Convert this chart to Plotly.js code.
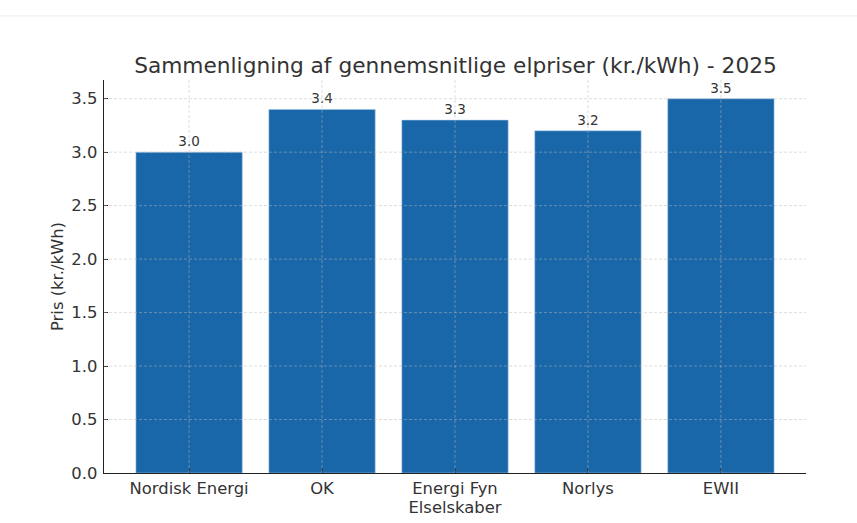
<!DOCTYPE html>
<html>
<head>
<meta charset="utf-8">
<script src="https://cdn.plot.ly/plotly-3.0.1.min.js"></script>
<style>
  html, body { margin: 0; padding: 0; background: #fff; }
  #chart { width: 857px; height: 523px; }
</style>
</head>
<body>
<div id="chart"></div>
<script>
// Data
var companies = ["Nordisk Energi", "OK", "Energi Fyn", "Norlys", "EWII"];
var prices = [3.0, 3.4, 3.3, 3.2, 3.5];
var yTicks = [0.0, 0.5, 1.0, 1.5, 2.0, 2.5, 3.0, 3.5];

var textColor = "#333333";
var gridColor = "rgba(185,185,185,0.6)";

var trace = {
    type: "bar",
    x: companies,
    y: prices,
    width: 0.8,
    marker: {color: "#1967a9", line: {color: "rgba(170,200,230,0.7)", width: 0.8}},
    text: prices.map(function(v) { return v.toFixed(1); }),
    textposition: "outside",
    textfont: {family: "DejaVu Sans", size: 13.5, color: textColor},
    cliponaxis: false,
    hoverinfo: "skip"
};

// grid lines drawn on top of the bars, as in the reference
var shapes = [];
yTicks.slice(1).forEach(function(t) {
    shapes.push({type: "line", xref: "paper", yref: "y", x0: 0, x1: 1, y0: t, y1: t,
                 layer: "above", line: {color: gridColor, width: 0.8, dash: "3px,2px"}});
});
companies.forEach(function(c, i) {
    shapes.push({type: "line", xref: "x", yref: "paper", x0: i, x1: i, y0: 0, y1: 1,
                 layer: "above", line: {color: gridColor, width: 0.8, dash: "3px,2px"}});
});
// faint separator line at the very top of the screenshot
shapes.push({type: "line", xref: "paper", yref: "paper", x0: -0.2, x1: 1.1, y0: 1.163, y1: 1.163,
             layer: "above", line: {color: "#ececec", width: 1}});

var layout = {
    width: 857,
    height: 523,
    margin: {l: 104, r: 51, t: 80, b: 50},
    paper_bgcolor: "#ffffff",
    plot_bgcolor: "#ffffff",
    font: {family: "DejaVu Sans", color: textColor, size: 16},
    showlegend: false,
    title: {
        text: "Sammenligning af gennemsnitlige elpriser (kr./kWh) - 2025",
        font: {family: "DejaVu Sans", size: 21.7, color: textColor},
        x: 0.5315, xanchor: "center",
        y: 0.874, yanchor: "middle"
    },
    xaxis: {
        type: "category",
        range: [-0.64, 4.64],
        showgrid: false,
        showline: true, linecolor: "#222222", linewidth: 1.3,
        ticks: "inside", ticklen: 4, tickwidth: 1, tickcolor: "#222222",
        tickfont: {family: "DejaVu Sans", size: 16.4, color: textColor},
        title: {text: "Elselskaber", font: {family: "DejaVu Sans", size: 16.4, color: textColor}, standoff: 4},
        fixedrange: true
    },
    yaxis: {
        range: [0, 3.675],
        tickvals: yTicks,
        ticktext: yTicks.map(function(v) { return v.toFixed(1); }),
        showgrid: false,
        zeroline: false,
        showline: true, linecolor: "#222222", linewidth: 1.3,
        ticks: "inside", ticklen: 4, tickwidth: 1, tickcolor: "#222222",
        ticklabelstandoff: 2,
        tickfont: {family: "DejaVu Sans", size: 16.4, color: textColor},
        title: {text: "Pris (kr./kWh)", font: {family: "DejaVu Sans", size: 16.4, color: textColor}, standoff: 3},
        fixedrange: true
    },
    shapes: shapes,
    bargap: 0.2
};

Plotly.newPlot("chart", [trace], layout, {displayModeBar: false, staticPlot: true});
</script>
</body>
</html>
